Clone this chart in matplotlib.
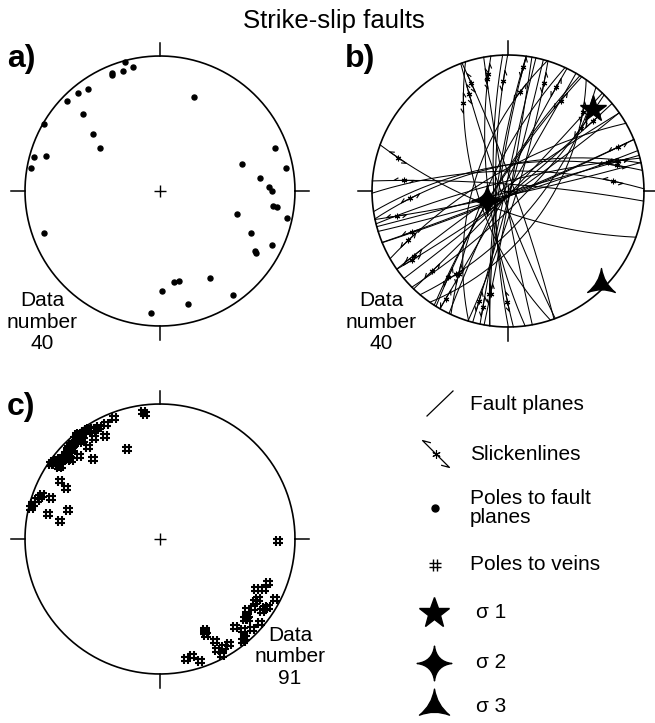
import numpy as np
import matplotlib.pyplot as plt
from matplotlib.path import Path

plt.rcParams['font.family'] = ['Liberation Sans', 'DejaVu Sans']

# poles to fault planes (panel a), read off the net:
# east / north position on a unit-radius lower-hemisphere equal-angle net
a_pole_e = [-0.259, -0.197, -0.276, -0.357, -0.352, -0.534, -0.611, -0.690, -0.574, -0.862,
            -0.500, -0.448, -0.933, -0.842, -0.953, 0.251, 0.850, 0.936, 0.608, 0.741,
            0.808, 0.830, 0.840, 0.867, 0.938, 0.569, 0.677, 0.833, 0.707, 0.709,
            -0.857, 0.369, 0.103, 0.140, 0.012, 0.539, 0.209, -0.067]
a_pole_n = [0.953, 0.919, 0.887, 0.874, 0.857, 0.759, 0.727, 0.665, 0.574, 0.498,
            0.424, 0.315, 0.251, 0.259, 0.170, 0.695, 0.315, 0.170, 0.200, 0.094,
            0.032, 0.002, -0.113, -0.118, -0.197, -0.172, -0.313, -0.401, -0.441, -0.458,
            -0.308, -0.643, -0.672, -0.667, -0.744, -0.768, -0.840, -0.901]
# slickenline rake on each fault (deg from strike), same order as the poles
rake = [10, 170, 15, 165, 8, 172, 12, 168, 20, 175, 160, 15, 170, 10, 165,
        170,
        165, 170, 160, 172, 12, 168, 15, 175, 8, 160, 20, 170, 15, 165,
        10,
        12, 168, 20, 165, 10, 170, 15]

# principal stress axes (trend, plunge in deg)
sigma_trend = [46, 247, 135]
sigma_plunge = [8, 71, 2]

# poles to veins (panel c), same net coordinates
c_pole_e = [-0.126, -0.113, -0.342, -0.397, -0.451, -0.475, -0.500, -0.525, -0.544, -0.562,
            -0.579, -0.599, -0.618, -0.586, -0.574, -0.603, -0.628, -0.635, -0.660, -0.672,
            -0.648, -0.685, -0.697, -0.667, -0.709, -0.685, -0.660, -0.722, -0.741, -0.771,
            -0.796, -0.808, -0.783, -0.406, -0.488, -0.530, -0.599, -0.495, -0.241, -0.746,
            -0.734, -0.741, -0.697, -0.874, -0.889, -0.914, -0.943, -0.956, -0.808, -0.833,
            -0.680, -0.739, 0.872, 0.800, 0.768, 0.714, 0.727, 0.707, 0.850, 0.687,
            0.645, 0.781, 0.756, 0.800, 0.645, 0.653, 0.628, 0.559, 0.613, 0.682,
            0.744, 0.628, 0.616, 0.337, 0.342, 0.330, 0.406, 0.510, 0.473, 0.424,
            0.456, 0.234, 0.190, 0.293]
c_pole_n = [0.941, 0.929, 0.899, 0.855, 0.830, 0.818, 0.805, 0.818, 0.805, 0.793,
            0.781, 0.776, 0.768, 0.751, 0.732, 0.719, 0.744, 0.707, 0.695, 0.677,
            0.663, 0.658, 0.633, 0.621, 0.608, 0.589, 0.584, 0.584, 0.596, 0.584,
            0.571, 0.559, 0.559, 0.761, 0.751, 0.682, 0.613, 0.596, 0.670, 0.530,
            0.539, 0.431, 0.377, 0.325, 0.313, 0.288, 0.259, 0.227, 0.305, 0.182,
            0.214, 0.135, -0.012, -0.328, -0.372, -0.372, -0.446, -0.468, -0.443, -0.512,
            -0.525, -0.512, -0.530, -0.505, -0.574, -0.594, -0.594, -0.653, -0.672, -0.667,
            -0.623, -0.734, -0.759, -0.677, -0.709, -0.692, -0.759, -0.778, -0.800, -0.820,
            -0.857, -0.865, -0.889, -0.906]

legend_labels = ['Fault planes', 'Slickenlines', 'Poles to fault\nplanes', 'Poles to veins',
                 'σ 1', 'σ 2', 'σ 3']

W, H = 655, 723


def proj(v):
    # lower hemisphere, equal angle; v = (north, east, down)
    k = 1 / (1 + v[2])
    return v[1] * k, v[0] * k


def unproj(x, y):
    r2 = x * x + y * y
    k = 2 / (1 + r2)
    return np.array([y * k, x * k, (1 - r2) / (1 + r2)])


def line_vec(trend, plunge):
    t, p = np.radians(trend), np.radians(plunge)
    return np.array([np.cos(p) * np.cos(t), np.cos(p) * np.sin(t), np.sin(p)])


def plane_vecs(pole):
    n, e, d = pole
    h = np.hypot(n, e)
    strike = np.array([-e / h, n / h, 0.0])
    dip = np.array([-d * n / h, -d * e / h, h])
    return strike, dip


def curved_star(n, k):
    verts, codes = [], []
    for i in range(n + 1):
        a = np.pi / 2 + 2 * np.pi * i / n
        tip = (np.cos(a), np.sin(a))
        if i == 0:
            verts.append(tip)
            codes.append(Path.MOVETO)
        else:
            am = a - np.pi / n
            verts += [(k * np.cos(am), k * np.sin(am)), tip]
            codes += [Path.CURVE3, Path.CURVE3]
    verts.append(verts[0])
    codes.append(Path.CLOSEPOLY)
    return Path(verts, codes)


hash_mark = Path([(-0.35, -1), (-0.35, 1), (0.35, -1), (0.35, 1),
                  (-1, -0.35), (1, -0.35), (-1, 0.35), (1, 0.35)],
                 [Path.MOVETO, Path.LINETO] * 4)
sig_marks = ['*', curved_star(4, 0.16), curved_star(3, 0.16)]
sig_sizes = [20, 22, 23]


def slick(ax, x, y, ux, uy, L, b, lw=0.8, ms=4):
    c, s = np.cos(np.radians(30)), np.sin(np.radians(30))
    bx, by = ux * c - uy * s, ux * s + uy * c
    x0, y0 = x - L * ux, y - L * uy
    x1, y1 = x + L * ux, y + L * uy
    ax.plot([x0 + b * bx, x0, x1, x1 - b * bx], [y0 + b * by, y0, y1, y1 - b * by],
            color='k', lw=lw, clip_on=False)
    ax.plot(x, y, marker=(6, 2, 0), ms=ms, mew=0.8, color='k', clip_on=False)


fig = plt.figure(figsize=(W / 100, H / 100), dpi=100)
ov = fig.add_axes([0, 0, 1, 1])
ov.set_xlim(0, W)
ov.set_ylim(0, H)
ov.set_axis_off()


def net(cx, cy, r, lim=1.16):
    ax = fig.add_axes([(cx - lim * r) / W, (H - cy - lim * r) / H, 2 * lim * r / W, 2 * lim * r / H])
    ax.set_xlim(-lim, lim)
    ax.set_ylim(-lim, lim)
    ax.set_axis_off()
    a = np.linspace(0, 2 * np.pi, 400)
    ax.plot(np.cos(a), np.sin(a), color='k', lw=1.2)
    for dx, dy in [(0, 1), (1, 0), (0, -1), (-1, 0)]:
        ax.plot([dx, 1.1 * dx], [dy, 1.1 * dy], color='k', lw=1.1, clip_on=False)
    ax.plot(0, 0, marker='+', ms=9, mew=1, color='k')
    return ax


# a) poles to fault planes
ax_a = net(160, 191, 135)
ax_a.plot(a_pole_e, a_pole_n, 'o', color='k', ms=3.6)

# b) fault planes, slickenlines, stress axes
ax_b = net(508, 191, 136)
t = np.linspace(0, np.pi, 240)
for e, n, rk in zip(a_pole_e, a_pole_n, rake):
    sv, dv = plane_vecs(unproj(e, n))
    v = np.outer(np.cos(t), sv) + np.outer(np.sin(t), dv)
    x, y = proj(v.T)
    ax_b.plot(x, y, color='k', lw=0.75)
    r0 = np.radians(rk)
    px, py = proj(np.cos(r0) * sv + np.sin(r0) * dv)
    qx, qy = proj(np.cos(r0 + 0.02) * sv + np.sin(r0 + 0.02) * dv)
    d = np.hypot(qx - px, qy - py)
    slick(ax_b, px, py, (qx - px) / d, (qy - py) / d, 0.075, 0.035)
for tr, pl, mk, ms in zip(sigma_trend, sigma_plunge, sig_marks, sig_sizes):
    sx, sy = proj(line_vec(tr, pl))
    ax_b.plot(sx, sy, marker=mk, ms=ms, color='k', mec='k', ls='none')

# c) poles to veins
ax_c = net(160, 539, 135)
ax_c.plot(c_pole_e, c_pole_n, ls='none', marker=hash_mark, ms=6.5, mew=1.5,
          mfc='none', mec='k')

# text
ov.text(334, H - 28, 'Strike-slip faults', fontsize=18.5, ha='center', va='baseline')
for lab, x, y in [('a)', 7, 67), ('b)', 345, 67), ('c)', 7, 415)]:
    ov.text(x, H - y, lab, fontsize=23, fontweight='bold', ha='left', va='baseline')
ov.text(42, H - 322, 'Data\nnumber\n40', fontsize=15, ha='center', va='center', linespacing=1.15)
ov.text(381, H - 322, 'Data\nnumber\n40', fontsize=15, ha='center', va='center', linespacing=1.15)
ov.text(290, H - 657, 'Data\nnumber\n91', fontsize=15, ha='center', va='center', linespacing=1.15)

# legend
leg_y = [404, 454, 508, 565, 613, 663, 706]
leg_x = [470, 470, 470, 470, 476, 476, 476]
sx0 = 435
ov.plot([sx0 - 8, sx0 + 18], [H - 416, H - 391], color='k', lw=0.9)
slick(ov, sx0 + 1, H - leg_y[1], 0.707, -0.707, 19, 8, lw=0.9, ms=6)
ov.plot(sx0, H - leg_y[2], 'o', color='k', ms=5)
ov.plot(sx0, H - leg_y[3], ls='none', marker=hash_mark, ms=8, mew=1.0, mfc='none', mec='k')
for mk, ms, y in zip(sig_marks, [23, 25, 25], leg_y[4:]):
    ov.plot(sx0 - 1, H - y, marker=mk, ms=ms, color='k', ls='none')
for lab, x, y in zip(legend_labels, leg_x, leg_y):
    ov.text(x, H - y, lab, fontsize=15, ha='left', va='center', linespacing=1.05)

fig.savefig('out.png', dpi=100)
